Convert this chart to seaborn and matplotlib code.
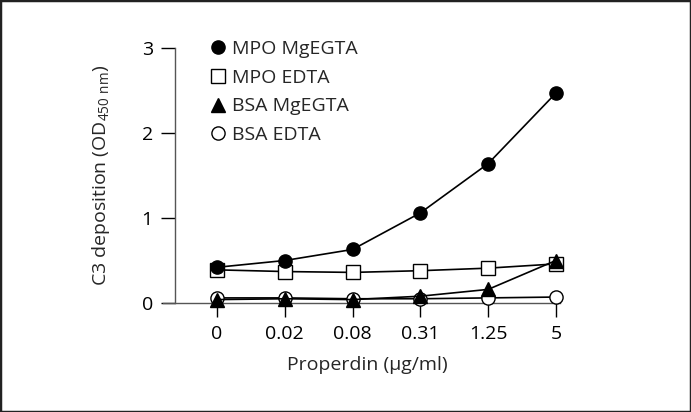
import matplotlib
matplotlib.use("Agg")
import matplotlib.pyplot as plt
import seaborn as sns
from matplotlib.patches import Rectangle

conc = ["0", "0.02", "0.08", "0.31", "1.25", "5"]
mpo_mgegta = [0.42, 0.50, 0.63, 1.06, 1.64, 2.47]
mpo_edta = [0.39, 0.37, 0.36, 0.38, 0.41, 0.46]
bsa_mgegta = [0.04, 0.05, 0.04, 0.08, 0.16, 0.50]
bsa_edta = [0.06, 0.06, 0.05, 0.05, 0.06, 0.07]

sns.set_style("ticks")
plt.rcParams["font.family"] = ["Open Sans", "DejaVu Sans"]
plt.rcParams["mathtext.default"] = "regular"

fs = 14

fig = plt.figure(figsize=(6.91, 4.12), dpi=100)
ax = fig.add_axes([175 / 691, 1 - 303 / 412, (560 - 175) / 691, (303 - 48) / 412])

xs = list(range(len(conc)))
# draw order so that filled markers sit on top of open ones
series = [
    ("BSA EDTA", bsa_edta, "o", "white", 3),
    ("MPO EDTA", mpo_edta, "s", "white", 4),
    ("BSA MgEGTA", bsa_mgegta, "^", "black", 5),
    ("MPO MgEGTA", mpo_mgegta, "o", "black", 6),
]
handles = {}
for name, vals, mk, fc, z in series:
    sns.lineplot(x=xs, y=vals, ax=ax, color="black", lw=1.2, marker=mk,
                 markersize=9.5, markerfacecolor=fc, markeredgecolor="black",
                 markeredgewidth=1.0, zorder=z, label=name, clip_on=False)
    handles[name] = ax.lines[-1]

order = ["MPO MgEGTA", "MPO EDTA", "BSA MgEGTA", "BSA EDTA"]
leg = ax.legend([handles[n] for n in order], order, loc="upper left",
                bbox_to_anchor=(0.065, 1.1), frameon=False, fontsize=fs,
                handlelength=0, handletextpad=0.75, labelspacing=0.55)
for h in leg.legend_handles:
    h.set_linestyle("None")

ax.set_xlim(-0.62, 5.06)
ax.set_ylim(0, 3)
ax.set_yticks([0, 1, 2, 3])
ax.set_xticks(xs)
ax.set_xticklabels(conc)
ax.tick_params(labelsize=fs, length=10, width=1.0, pad=6, colors="black")
for s in ["top", "right"]:
    ax.spines[s].set_visible(False)
for s in ["left", "bottom"]:
    ax.spines[s].set_linewidth(1.0)
    ax.spines[s].set_color("#555555")
ax.spines["bottom"].set_bounds(-0.62 - 0.18, 5.06)

ax.set_xlabel("Properdin (µg/ml)", fontsize=fs, labelpad=9)
ax.set_ylabel("C3 deposition (OD$_{450\\ nm}$)", fontsize=fs, labelpad=21)

fig.patches.append(Rectangle((0, 0), 1, 1, transform=fig.transFigure,
                             fill=False, edgecolor="#222222", lw=2.5))
fig.savefig("out.png", dpi=100)
